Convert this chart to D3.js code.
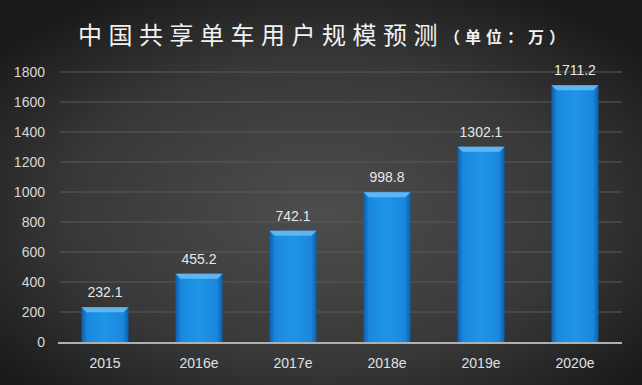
<!DOCTYPE html>
<html><head><meta charset="utf-8">
<script src="https://cdn.jsdelivr.net/npm/d3@7"></script>
<style>html,body{margin:0;padding:0;background:#222;}svg{display:block;}</style>
</head><body>
<script>
const categories = ["2015","2016e","2017e","2018e","2019e","2020e"];
const values = [232.1, 455.2, 742.1, 998.8, 1302.1, 1711.2];
const yTicks = [0,200,400,600,800,1000,1200,1400,1600,1800];
const title = "中国共享单车用户规模预测";
const subtitle = "（单位：万）";

const W = 642, H = 385;
const svg = d3.select("body").append("svg").attr("width", W).attr("height", H);
const defs = svg.append("defs");
const bg = defs.append("radialGradient").attr("id","bg").attr("cx","50%").attr("cy","55%").attr("r","65%");
bg.append("stop").attr("offset","0%").attr("stop-color","#4d4d4d");
bg.append("stop").attr("offset","60%").attr("stop-color","#383838");
bg.append("stop").attr("offset","100%").attr("stop-color","#1a1a1a");
svg.append("rect").attr("width",W).attr("height",H).attr("fill","url(#bg)");

const bar = defs.append("linearGradient").attr("id","bar").attr("x1","0").attr("x2","1").attr("y1","0").attr("y2","0");
bar.append("stop").attr("offset","0%").attr("stop-color","#0b5fae");
bar.append("stop").attr("offset","12%").attr("stop-color","#1a88dc");
bar.append("stop").attr("offset","50%").attr("stop-color","#1f95e8");
bar.append("stop").attr("offset","88%").attr("stop-color","#1a88dc");
bar.append("stop").attr("offset","100%").attr("stop-color","#0b5fae");

const x = d3.scaleBand().domain(categories).range([58, 622]).paddingInner(0.5).paddingOuter(0.25);
const y = d3.scaleLinear().domain([0,1800]).range([342, 72]);

// gridlines
svg.append("g").selectAll("line").data(yTicks.filter(d=>d>0)).join("line")
  .attr("x1",60).attr("x2",622).attr("y1",d=>y(d)).attr("y2",d=>y(d))
  .attr("stroke","#5a5a5a").attr("stroke-width",1);

// y axis labels
const yAxis = d3.axisLeft(y).tickValues(yTicks).tickSize(0).tickPadding(0).tickFormat(d3.format("d"));
const ya = svg.append("g").attr("transform","translate(45,0)").call(yAxis);
ya.select(".domain").remove();
ya.selectAll("text").attr("fill","#d8d8d8").style("font-family","Liberation Sans, Arial, sans-serif").style("font-size","14px");

// bars
const g = svg.append("g");
g.selectAll("rect.bar").data(values).join("rect").attr("class","bar")
  .attr("x",(d,i)=>x(categories[i])).attr("width",x.bandwidth())
  .attr("y",d=>y(d)).attr("height",d=>y(0)-y(d)).attr("fill","url(#bar)");
// top bevel
g.selectAll("path.bevel").data(values).join("path").attr("class","bevel")
  .attr("d",(d,i)=>{const x0=x(categories[i]), x1=x0+x.bandwidth(), t=y(d);
    return `M${x0},${t}L${x1},${t}L${x1-5},${t+5}L${x0+5},${t+5}Z`;})
  .attr("fill","#5fb6f2");

// baseline
svg.append("line").attr("x1",58).attr("x2",622).attr("y1",343).attr("y2",343).attr("stroke","#b0b0b0").attr("stroke-width",2);

// value labels
g.selectAll("text.val").data(values).join("text").attr("class","val")
  .attr("x",(d,i)=>x(categories[i])+x.bandwidth()/2).attr("y",d=>y(d)-10)
  .attr("text-anchor","middle").attr("fill","#e8e8e8")
  .style("font-family","Liberation Sans, Arial, sans-serif").style("font-size","14px")
  .text(d=>d.toFixed(1));

// x axis labels
const xAxis = d3.axisBottom(x).tickSize(0).tickPadding(0);
const xa = svg.append("g").attr("transform","translate(0,358)").call(xAxis);
xa.select(".domain").remove();
xa.selectAll("text").attr("fill","#e0e0e0").style("font-family","Liberation Sans, Arial, sans-serif").style("font-size","14px");

// title
svg.append("text").attr("x",78).attr("y",44).attr("fill","#f2f2f2")
  .style("font-family","Noto Sans CJK SC").style("font-size","24px").style("letter-spacing","6.5px").text(title);
svg.append("text").attr("x",444).attr("y",43).attr("fill","#f2f2f2")
  .style("font-family","Noto Sans CJK SC").style("font-size","16px").style("font-weight","bold").style("letter-spacing","5px").text(subtitle);
</script>
</body></html>
